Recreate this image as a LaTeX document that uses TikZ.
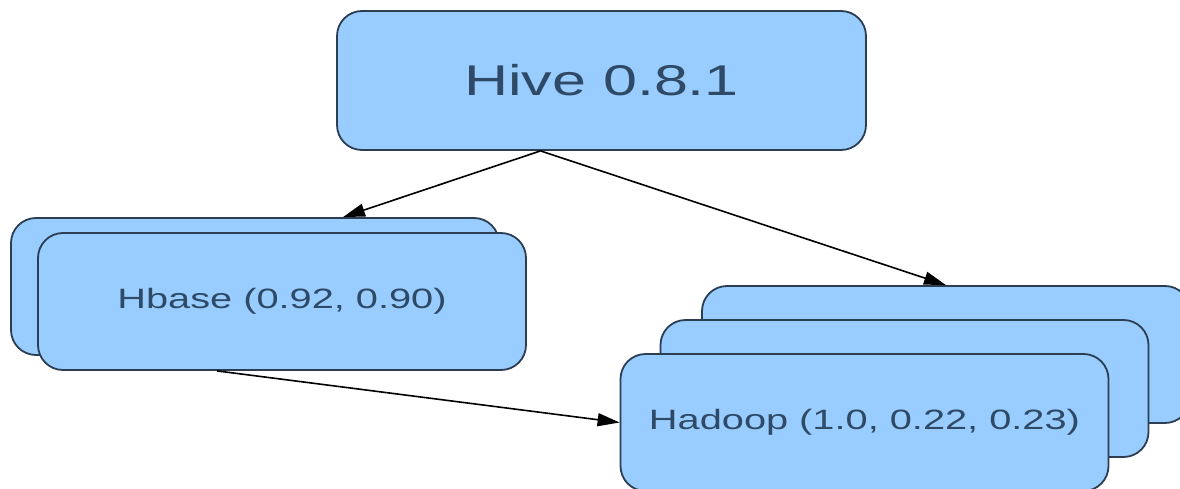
\documentclass[tikz,border=0pt]{standalone}
\usepackage{graphicx}
\usepackage{fontspec}
\setmainfont{Liberation Sans}
\usepackage{tikz}
\usetikzlibrary{arrows.meta,positioning}
\definecolor{cardfill}{HTML}{99CCFF}
\definecolor{carddraw}{HTML}{2B3E52}
\definecolor{cardtext}{HTML}{2F4A66}
\newcommand{\Wide}[1]{\scalebox{1.42}[1]{#1}}

\tikzset{
  card/.style={draw=carddraw, fill=cardfill, line width=1.8pt, rounded corners=25pt,
    minimum width=488pt, minimum height=137pt, inner sep=0pt, text=cardtext,
    font=\fontsize{28}{34}\selectfont},
  link/.style={line width=1.6pt, -{Triangle[length=22pt,width=13pt]}}
}

\begin{document}
\begin{tikzpicture}[x=1pt, y=-1pt]
		\clip (0,0) rectangle (1180,489);

		% Define nodes
		\node[card, minimum width=529pt, minimum height=139pt,
		  font=\fontsize{43}{50}\selectfont] (Hive) at (601.5,80.5) {\Wide{Hive 0.8.1}};

		\node[card] (hb2) at (255,286.5) {};
		\node[card] (hb1) at (282,301.5) {\Wide{Hbase (0.92, 0.90)}};

		\node[card] (hd3) at (946,354.5) {};
		\node[card] (hd2) at (904.5,388.5) {};
		\node[card] (hd1) at (864.5,422.5) {\Wide{Hadoop (1.0, 0.22, 0.23)}};

		\coordinate (hivefoot) at ([xshift=-61pt]Hive.south);
		\coordinate (hbtop) at ([xshift=88pt]hb2.north);
		\coordinate (hbfoot) at ([xshift=-65pt]hb1.south);

		% Connect the nodes
		\draw[link] (hivefoot) -- (hbtop);
		\draw[link] (hivefoot) -- (hd3.north);
		\draw[link] (hbfoot) -- (hd1.west);
	\end{tikzpicture}
\end{document}
